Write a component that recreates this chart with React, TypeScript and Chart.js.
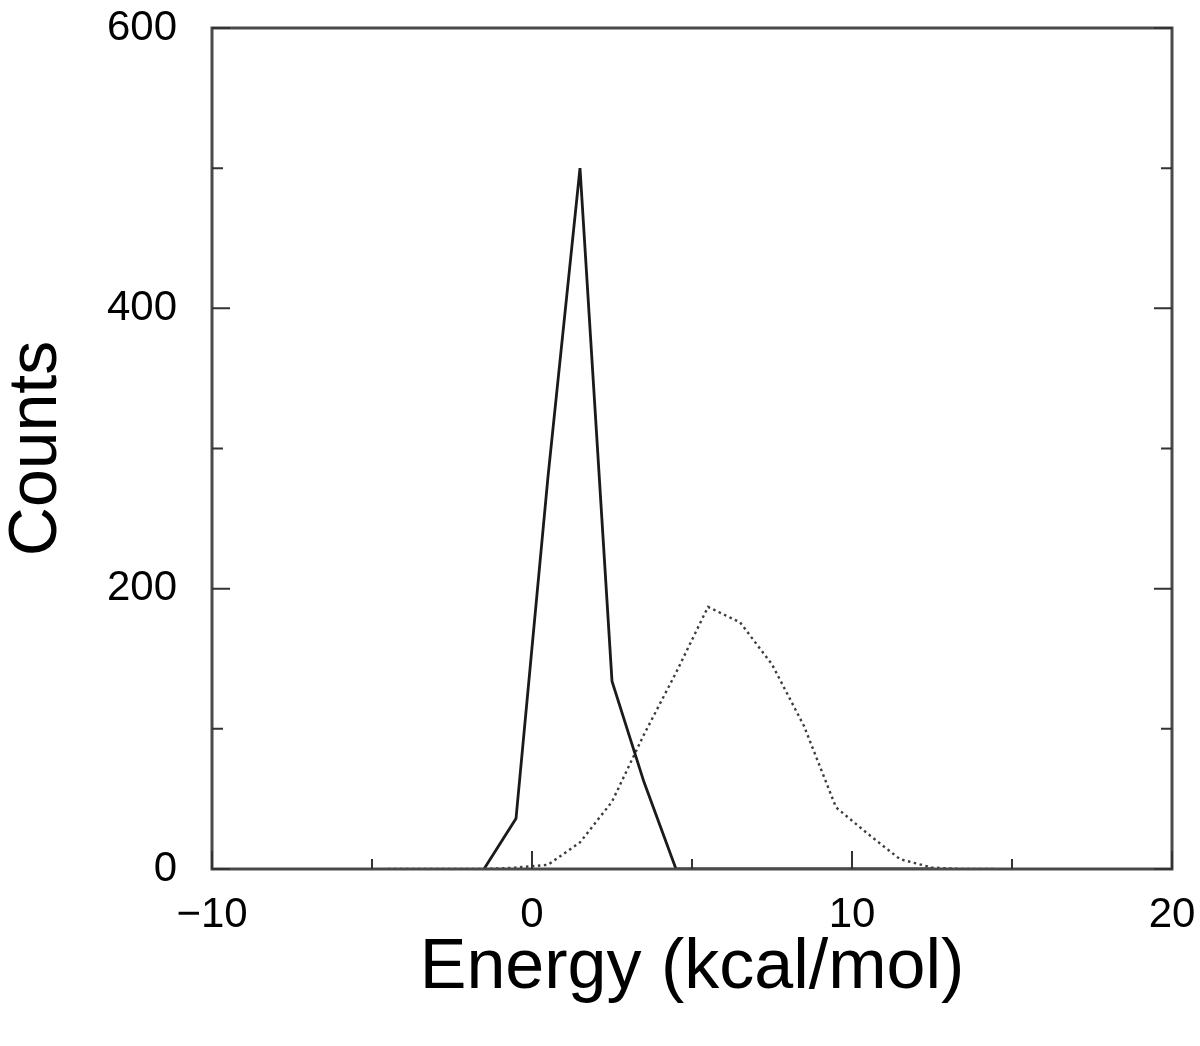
import React, { useEffect, useRef } from "react";
import { Chart, registerables } from "chart.js";

Chart.register(...registerables);

// Solid curve
const solidEnergy = [-1.5, -0.5, 0.5, 1.5, 2.5, 3.5, 4.5, 5.5, 6.5, 7.5, 8.5, 9.5, 10.5, 11.5, 12.5];
const solidCounts = [0, 36, 280, 500, 134, 62, 0, 0, 0, 0, 0, 0, 0, 0, 0];

// Dotted curve
const dottedEnergy = [-4.5, -3.5, -2.5, -1.5, -0.5, 0.5, 1.5, 2.5, 3.5, 4.5, 5.5, 6.5, 7.5, 8.5, 9.5, 10.5, 11.5, 12.5, 13.5, 14.5];
const dottedCounts = [0, 0, 0, 0, 1, 3, 19, 48, 96, 140, 187, 176, 146, 102, 44, 25, 7, 1, 0, 0];

// Axis ticks
const xMajorTicks = [-10, 0, 10, 20];
const xMinorTicks = [-5, 5, 15];
const yMajorTicks = [0, 200, 400, 600];
const yMinorTicks = [100, 300, 500];

const xTitle = "Energy (kcal/mol)";
const yTitle = "Counts";

const framePlugin = {
  id: "frameTicks",
  afterDatasetsDraw(chart: any) {
    const { ctx, chartArea, scales } = chart;
    const { left, right, top, bottom } = chartArea;
    const xs = scales.x;
    const ys = scales.y;
    ctx.save();
    ctx.strokeStyle = "#4a4a4a";
    ctx.lineWidth = 3;
    ctx.strokeRect(left, top, right - left, bottom - top);
    ctx.lineWidth = 2;
    ctx.strokeStyle = "#333";
    const drawX = (v: number, len: number) => {
      const p = xs.getPixelForValue(v);
      ctx.beginPath();
      ctx.moveTo(p, bottom);
      ctx.lineTo(p, bottom - len);
      ctx.stroke();
    };
    const drawY = (v: number, len: number) => {
      const p = ys.getPixelForValue(v);
      ctx.beginPath();
      ctx.moveTo(left, p);
      ctx.lineTo(left + len, p);
      ctx.moveTo(right, p);
      ctx.lineTo(right - len, p);
      ctx.stroke();
    };
    xMajorTicks.forEach((v) => drawX(v, 18));
    xMinorTicks.forEach((v) => drawX(v, 10));
    yMajorTicks.forEach((v) => drawY(v, 18));
    yMinorTicks.forEach((v) => drawY(v, 11));
    ctx.restore();
  },
};

const zeroPad = (s: any) => {
  s.paddingLeft = 0;
  s.paddingRight = 0;
  s.paddingTop = 0;
  s.paddingBottom = 0;
};

export default function App() {
  const ref = useRef<HTMLCanvasElement>(null);
  useEffect(() => {
    if (!ref.current) return;
    const chart = new Chart(ref.current, {
      type: "line",
      data: {
        datasets: [
          {
            label: "solid",
            data: solidEnergy.map((x, i) => ({ x, y: solidCounts[i] })),
            borderColor: "#1a1a1a",
            borderWidth: 2.8,
            pointRadius: 0,
            tension: 0,
            fill: false,
          },
          {
            label: "dotted",
            data: dottedEnergy.map((x, i) => ({ x, y: dottedCounts[i] })),
            borderColor: "#3c3c3c",
            borderWidth: 2.4,
            borderDash: [2.5, 3.5],
            pointRadius: 0,
            tension: 0,
            fill: false,
          },
        ],
      },
      options: {
        animation: false,
        responsive: false,
        layout: { padding: { left: 0, top: 28, right: 28, bottom: 0 } },
        plugins: { legend: { display: false }, tooltip: { enabled: false } },
        scales: {
          x: {
            type: "linear",
            min: -10,
            max: 20,
            afterFit: (s: any) => {
              s.height = 1046 - 869;
              zeroPad(s);
            },
            grid: { display: false, drawTicks: false },
            border: { display: false },
            ticks: {
              stepSize: 10,
              autoSkip: false,
              maxRotation: 0,
              padding: 25,
              color: "#000",
              font: { family: "'Liberation Sans', Arial, sans-serif", size: 42, lineHeight: 1 },
              callback: (v: any) => (v < 0 ? "\u2212" + Math.abs(v) : String(v)),
            },
            title: {
              display: true,
              text: xTitle,
              color: "#000",
              padding: { top: 0, bottom: 42 },
              font: { family: "'Liberation Sans', Arial, sans-serif", size: 70, lineHeight: 1 },
            },
          },
          y: {
            type: "linear",
            min: 0,
            max: 600,
            afterFit: (s: any) => {
              s.width = 212;
              zeroPad(s);
            },
            grid: { display: false, drawTicks: false },
            border: { display: false },
            ticks: {
              stepSize: 200,
              autoSkip: false,
              padding: 35,
              color: "#000",
              font: { family: "'Liberation Sans', Arial, sans-serif", size: 42, lineHeight: 1 },
            },
            title: {
              display: true,
              text: yTitle,
              color: "#000",
              padding: { top: 3, bottom: 0 },
              font: { family: "'Liberation Sans', Arial, sans-serif", size: 68, lineHeight: 1 },
            },
          },
        },
      },
      plugins: [framePlugin],
    });
    return () => chart.destroy();
  }, []);
  return (
    <div style={{ position: "absolute", left: 0, top: 0, width: 1200, height: 1046, background: "#fff" }}>
      <canvas ref={ref} width={1200} height={1046} style={{ display: "block" }} />
    </div>
  );
}
